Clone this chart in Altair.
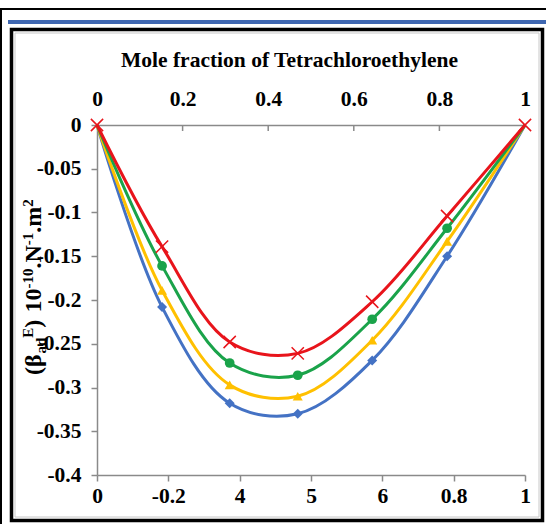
import altair as alt
import pandas as pd

# ---------------- data ----------------
x_frac = [0, 0.152, 0.310, 0.469, 0.643, 0.818, 1.0]
beta_red = [0, -0.139, -0.248, -0.261, -0.202, -0.104, 0]
beta_green = [0, -0.161, -0.272, -0.286, -0.222, -0.118, 0]
beta_yellow = [0, -0.189, -0.297, -0.310, -0.246, -0.133, 0]
beta_blue = [0, -0.208, -0.318, -0.330, -0.269, -0.150, 0]

series_names = ["blue", "yellow", "green", "red"]
series_values = [beta_blue, beta_yellow, beta_green, beta_red]
series_colors = ["#4472C4", "#FFC000", "#1AA34A", "#E8141B"]

top_ticks = [0, 0.2, 0.4, 0.6, 0.8, 1]
inner_top_ticks = [0.2, 0.4, 0.6, 0.8]
bottom_ticks = [0, 0.1667, 0.3333, 0.5, 0.6667, 0.8333, 1]
bottom_labels = ["0", "-0.2", "4", "5", "6", "0.8", "1"]
y_ticks = [0, -0.05, -0.1, -0.15, -0.2, -0.25, -0.3, -0.35, -0.4]

rows = []
for name, vals in zip(series_names, series_values):
    for xv, yv in zip(x_frac, vals):
        rows.append({"series": name, "x": xv, "y": yv})
df = pd.DataFrame(rows)

FONT = "Liberation Serif"
AXIS_GREY = "#8a8a8a"

xscale = alt.Scale(domain=[0, 1], nice=False, zero=False)
yscale = alt.Scale(domain=[-0.4, 0], nice=False, zero=False)

common_axis = dict(
    labelFont=FONT, labelFontSize=21.5, labelFontWeight="bold", labelColor="black",
    domainColor=AXIS_GREY, domainWidth=1.5, tickColor=AXIS_GREY, tickWidth=1.5,
    grid=False, labelFlush=False, labelOverlap=False, labelBound=False, zindex=0,
)

top_axis = alt.Axis(
    orient="top", values=top_ticks,
    labelExpr="toString(round(datum.value*10)/10)",
    title="Mole fraction of Tetrachloroethylene",
    titleFont=FONT, titleFontSize=21.5, titleFontWeight="bold", titleColor="black",
    titleX=192, titleY=-59, titleAlign="center", titleBaseline="alphabetic",
    ticks=False, labelPadding=15, **common_axis,
)
bottom_labels_js = "[" + ",".join("'" + s + "'" for s in bottom_labels) + "]"
bottom_axis = alt.Axis(
    orient="bottom", values=bottom_ticks,
    labelExpr=bottom_labels_js + "[round(datum.value*6)]",
    title=None, tickSize=6, labelPadding=4, **common_axis,
)
left_axis = alt.Axis(
    orient="left", values=y_ticks,
    labelExpr="toString(round(datum.value*100)/100)",
    title=None, tickSize=6, labelPadding=10, **common_axis,
)

one = pd.DataFrame({"k": [0]})
layers = []

# ---------- frame decoration ----------
layers.append(alt.Chart(one).mark_rect(fill=None, stroke="black", strokeWidth=3.5).encode(
    x=alt.value(-85.5), x2=alt.value(445.5), y=alt.value(-95.5), y2=alt.value(395.5)))
layers.append(alt.Chart(one).mark_rect(fill=None, stroke="#c8c8c8", strokeWidth=1).encode(
    x=alt.value(-82), x2=alt.value(442), y=alt.value(-92), y2=alt.value(392)))
layers.append(alt.Chart(one).mark_rect(fill="#3F67B1").encode(
    x=alt.value(-89), x2=alt.value(449), y=alt.value(-105), y2=alt.value(-101)))
layers.append(alt.Chart(one).mark_rule(color="black", strokeWidth=2).encode(
    x=alt.value(-97), x2=alt.value(449), y=alt.value(-116)))
layers.append(alt.Chart(one).mark_rule(color="black", strokeWidth=2).encode(
    x=alt.value(-96), y=alt.value(-116), y2=alt.value(399)))

# ---------- inward ticks on top axis (carries the bottom axis) ----------
layers.append(alt.Chart(pd.DataFrame({"t": inner_top_ticks})).mark_rule(
    color=AXIS_GREY, strokeWidth=1.5).encode(
    x=alt.X("t:Q", scale=xscale, axis=bottom_axis),
    y=alt.value(0), y2=alt.value(6)))

# ---------- y-axis title built from pieces ----------
CW = {"(": 0.333, ")": 0.333, " ": 0.25, ".": 0.25, "-": 0.333, "N": 0.722,
      "m": 0.833, "a": 0.5, "d": 0.556, "E": 0.667, "β": 0.56}
MAIN, SMALL = 24, 15
segments = [("(β", "main"), ("ad", "sub"), ("E", "sup"), (")", "main"), ("", "gap"),
            ("10", "main"), ("-10", "sup"), (".N", "main"), ("-1", "sup"), (".m", "main"),
            ("2", "sup")]
base_x = {"main": -56, "sup": -64, "sub": -51}
ypos = 250.0
for txt, kind in segments:
    if kind == "gap":
        ypos -= 0.3 * MAIN
        continue
    fs = MAIN if kind == "main" else SMALL
    w = sum(CW.get(c, 0.5) for c in txt) * fs
    layers.append(alt.Chart(one).mark_text(
        text=txt, angle=270, align="left", baseline="alphabetic", font=FONT,
        fontSize=fs, fontWeight="bold", color="black").encode(
        x=alt.value(base_x[kind]), y=alt.value(ypos)))
    ypos -= w

# ---------- series ----------
first = True
for name, col in zip(series_names, series_colors):
    sub = alt.Chart(df).transform_filter(alt.datum.series == name)
    layers.append(sub.mark_line(interpolate="catmull-rom", strokeWidth=3, color=col).encode(
        x=alt.X("x:Q", scale=xscale, axis=top_axis if first else None),
        y=alt.Y("y:Q", scale=yscale, axis=left_axis if first else None)))
    first = False

marker_specs = {
    "blue": dict(shape="diamond", filled=True, size=100),
    "yellow": dict(shape="triangle-up", filled=True, size=100),
    "green": dict(shape="circle", filled=True, size=95),
    "red": dict(shape="M-1,-1L1,1M-1,1L1,-1", filled=False, size=150, strokeWidth=1.5),
}
for name, col in zip(series_names, series_colors):
    sub = alt.Chart(df).transform_filter(alt.datum.series == name)
    if name != "red":
        sub = sub.transform_filter("datum.x > 0 && datum.x < 1")
    layers.append(sub.mark_point(color=col, opacity=1, **marker_specs[name]).encode(
        x=alt.X("x:Q", scale=xscale, axis=None),
        y=alt.Y("y:Q", scale=yscale, axis=None)))

chart = alt.layer(*layers).resolve_axis(x="independent", y="independent").properties(
    width=428, height=350,
    padding={"left": 97, "top": 125, "right": 21, "bottom": 49},
    autosize="none", background="white",
).configure_view(stroke=None)

chart.save("out.html", embed_options={"renderer": "svg", "actions": False})
